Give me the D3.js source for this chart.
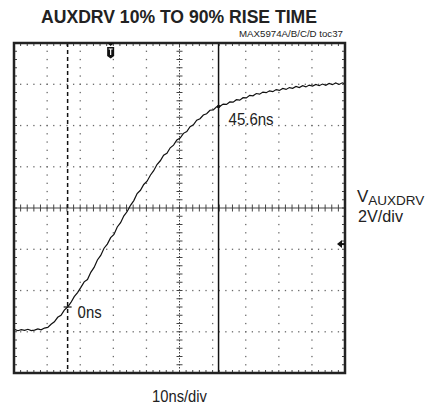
<!DOCTYPE html>
<meta charset="utf-8">
<style>
body { margin: 0; background: #fff; }
text { font-family: "Liberation Sans", Arial, sans-serif; fill: #222; }
.trace { fill: none; stroke: #111; stroke-width: 1.2px; stroke-linejoin: miter; }
.dot { fill: #6a6a6a; }
.tick { stroke: #444; stroke-width: 1px; }
</style>
<svg width="435" height="406"></svg>
<script src="https://d3js.org/d3.v7.min.js"></script>
<script>

// waveform: time in ns, level in V
var timeNs = [-16.2, -16, -15, -14, -13, -12, -11, -10, -9, -8, -7, -6, -5, -4, -3, -2, -1,
  0, 1, 2, 3, 4, 5, 6, 7, 8, 9, 10, 11, 12, 13, 14, 15, 16, 17, 18, 19,
  20, 21, 22, 23, 24, 25, 26, 27, 28, 29, 30, 31, 32, 33, 34, 35, 36, 37, 38, 39,
  40, 41, 42, 43, 44, 45, 46, 47, 48, 49, 50, 51, 52, 53, 54, 55, 56, 57, 58, 59,
  60, 61, 62, 63, 64, 65, 66, 67, 68, 69, 70, 71, 72, 73, 74, 75, 76, 77, 78, 79,
  80, 81, 82, 83, 83.8];
var levelV = [-5.92, -5.89, -5.95, -5.90, -5.93, -5.88, -5.94, -5.92, -5.86, -5.91, -5.82, -5.79, -5.64, -5.52, -5.30, -5.20, -4.95,
  -4.80, -4.58, -4.30, -4.10, -3.85, -3.58, -3.47, -3.12, -2.88, -2.52, -2.30, -1.95, -1.75, -1.44, -1.28, -0.92, -0.71, -0.38, -0.17, 0.13,
  0.36, 0.70, 0.86, 1.14, 1.30, 1.59, 1.81, 2.11, 2.29, 2.56, 2.65, 2.92, 3.05, 3.30, 3.39, 3.62, 3.71, 3.94, 4.03, 4.26,
  4.33, 4.51, 4.57, 4.74, 4.76, 4.91, 4.93, 5.04, 5.02, 5.14, 5.13, 5.25, 5.23, 5.35, 5.34, 5.46, 5.44, 5.55, 5.52, 5.62,
  5.59, 5.68, 5.64, 5.74, 5.70, 5.80, 5.75, 5.84, 5.80, 5.89, 5.84, 5.93, 5.87, 5.96, 5.91, 5.99, 5.93, 6.01, 5.95, 6.04,
  5.98, 6.06, 5.99, 6.07, 6.02];

var cursorNs = [0, 45.6];
var cursorLabels = ["0ns", "45.6ns"];
var cursorLevelV = [-4.80, 4.92];
var triggerNs = 13;
var groundV = -1.75;

var timeDomain = [-16.2, 83.8];   // 10 divisions of 10ns
var levelDomain = [-8, 8];        // 8 divisions of 2V

var svg = d3.select("svg");
var pl = 14, pt = 43, pw = 331, ph = 330;

var x = d3.scaleLinear().domain(timeDomain).range([pl, pl + pw]);
var y = d3.scaleLinear().domain(levelDomain).range([pt + ph, pt]);

var xDiv = pw / 10, yDiv = ph / 8;
var cx = pl + pw / 2, cy = pt + ph / 2;

// dotted graticule
var grid = svg.append("g");
d3.range(1, 8).filter(function(k) { return k != 4; }).forEach(function(k) {
  grid.selectAll(null).data(d3.range(0, 51)).enter().append("rect")
    .attr("class", "dot")
    .attr("x", function(i) { return pl + i * pw / 50 - 0.6; })
    .attr("y", pt + k * yDiv - 0.6)
    .attr("width", 1.3).attr("height", 1.3);
});
d3.range(1, 10).filter(function(k) { return k != 5; }).forEach(function(k) {
  grid.selectAll(null).data(d3.range(0, 41)).enter().append("rect")
    .attr("class", "dot")
    .attr("x", pl + k * xDiv - 0.6)
    .attr("y", function(i) { return pt + i * ph / 40 - 0.6; })
    .attr("width", 1.3).attr("height", 1.3);
});

// centre axes with minor ticks
grid.append("line").attr("class", "tick")
  .attr("x1", pl).attr("x2", pl + pw).attr("y1", cy).attr("y2", cy);
grid.append("line").attr("class", "tick").attr("stroke-dasharray", "1.5,1.5")
  .attr("x1", cx).attr("x2", cx).attr("y1", pt).attr("y2", pt + ph);
grid.selectAll(null).data(d3.range(1, 50)).enter().append("line")
  .attr("class", "tick")
  .attr("x1", function(i) { return pl + i * pw / 50; })
  .attr("x2", function(i) { return pl + i * pw / 50; })
  .attr("y1", cy - 3.5).attr("y2", cy + 3.5);
grid.selectAll(null).data(d3.range(1, 40)).enter().append("line")
  .attr("class", "tick")
  .attr("y1", function(i) { return pt + i * ph / 40; })
  .attr("y2", function(i) { return pt + i * ph / 40; })
  .attr("x1", cx - 3).attr("x2", cx + 3);

// ticks on the frame
grid.selectAll(null).data(d3.range(1, 50)).enter().append("line")
  .attr("class", "tick")
  .attr("x1", function(i) { return pl + i * pw / 50; })
  .attr("x2", function(i) { return pl + i * pw / 50; })
  .attr("y1", pt).attr("y2", pt + 3);
grid.selectAll(null).data(d3.range(1, 50)).enter().append("line")
  .attr("class", "tick")
  .attr("x1", function(i) { return pl + i * pw / 50; })
  .attr("x2", function(i) { return pl + i * pw / 50; })
  .attr("y1", pt + ph - 3).attr("y2", pt + ph);
grid.selectAll(null).data(d3.range(1, 40)).enter().append("line")
  .attr("class", "tick")
  .attr("y1", function(i) { return pt + i * ph / 40; })
  .attr("y2", function(i) { return pt + i * ph / 40; })
  .attr("x1", pl + pw - 3).attr("x2", pl + pw);
grid.selectAll(null).data(d3.range(1, 40)).enter().append("line")
  .attr("class", "tick")
  .attr("y1", function(i) { return pt + i * ph / 40; })
  .attr("y2", function(i) { return pt + i * ph / 40; })
  .attr("x1", pl).attr("x2", pl + 3);

// cursors
svg.selectAll(null).data(cursorNs).enter().append("line")
  .attr("x1", function(d) { return x(d); }).attr("x2", function(d) { return x(d); })
  .attr("y1", pt).attr("y2", pt + ph)
  .attr("stroke", "#111").attr("stroke-width", 1.5)
  .attr("stroke-dasharray", function(d, i) { return i == 0 ? "4,3" : null; });

// trace
var line = d3.line()
  .x(function(d, i) { return x(timeNs[i]); })
  .y(function(d) { return y(d); });
svg.append("path").attr("class", "trace").attr("d", line(levelV));

// cross at the 0ns crossing
svg.append("line")
  .attr("x1", x(cursorNs[0]) - 4).attr("x2", x(cursorNs[0]) + 4)
  .attr("y1", y(cursorLevelV[0])).attr("y2", y(cursorLevelV[0]))
  .attr("stroke", "#111").attr("stroke-width", 1.2);
svg.append("circle")
  .attr("cx", x(cursorNs[1])).attr("cy", y(cursorLevelV[1])).attr("r", 1.8)
  .attr("fill", "#111");

// cursor readouts
svg.append("text").attr("x", x(cursorNs[0]) + 10).attr("y", y(cursorLevelV[0]) + 11)
  .attr("font-size", 17).attr("textLength", 24).attr("lengthAdjust", "spacingAndGlyphs")
  .text(cursorLabels[0]);
svg.append("text").attr("x", x(cursorNs[1]) + 10).attr("y", y(cursorLevelV[1]) + 18)
  .attr("font-size", 17).attr("textLength", 45).attr("lengthAdjust", "spacingAndGlyphs")
  .text(cursorLabels[1]);

// frame
svg.append("rect").attr("x", pl).attr("y", pt).attr("width", pw).attr("height", ph)
  .attr("fill", "none").attr("stroke", "#222").attr("stroke-width", 2.5);

// trigger marker at top
var tx = x(triggerNs);
svg.append("path")
  .attr("d", "M" + (tx - 3.5) + "," + pt + "L" + (tx + 3.5) + "," + pt + "L" + tx + "," + (pt + 3) + "Z")
  .attr("fill", "#111");
svg.append("path")
  .attr("d", "M" + (tx - 3.5) + "," + (pt + 4) + "h7v9l-3.5,2.5l-3.5,-2.5Z")
  .attr("fill", "#111");
svg.append("path")
  .attr("d", "M" + (tx - 2) + "," + (pt + 6) + "h4M" + tx + "," + (pt + 6) + "v6")
  .attr("stroke", "#fff").attr("stroke-width", 1.2);

// ground marker on the right
var gy = y(groundV);
svg.append("path")
  .attr("d", "M" + (pl + pw - 8) + "," + gy + "L" + (pl + pw - 3) + "," + (gy - 4) +
    "L" + (pl + pw - 3) + "," + (gy + 4) + "Z")
  .attr("fill", "#111");
svg.append("line")
  .attr("x1", pl + pw - 5).attr("x2", pl + pw).attr("y1", gy).attr("y2", gy)
  .attr("stroke", "#111").attr("stroke-width", 2);

// titles and labels
svg.append("text").attr("x", 41).attr("y", 22.5)
  .attr("font-size", 19).attr("font-weight", "bold")
  .attr("textLength", 276).attr("lengthAdjust", "spacingAndGlyphs")
  .text("AUXDRV 10% TO 90% RISE TIME");
svg.append("text").attr("x", 239).attr("y", 36.5)
  .attr("font-size", 8.5).attr("textLength", 104).attr("lengthAdjust", "spacingAndGlyphs")
  .text("MAX5974A/B/C/D toc37");

var vl = svg.append("text").attr("x", 357).attr("y", 201.5).attr("font-size", 17);
vl.append("tspan").text("V");
vl.append("tspan").attr("font-size", 13.5).attr("dy", 3).text("AUXDRV");
svg.append("text").attr("x", 358).attr("y", 221.5)
  .attr("font-size", 17).attr("textLength", 45).attr("lengthAdjust", "spacingAndGlyphs")
  .text("2V/div");
svg.append("text").attr("x", 152).attr("y", 401.5)
  .attr("font-size", 16.5).attr("textLength", 55).attr("lengthAdjust", "spacingAndGlyphs")
  .text("10ns/div");

</script>
